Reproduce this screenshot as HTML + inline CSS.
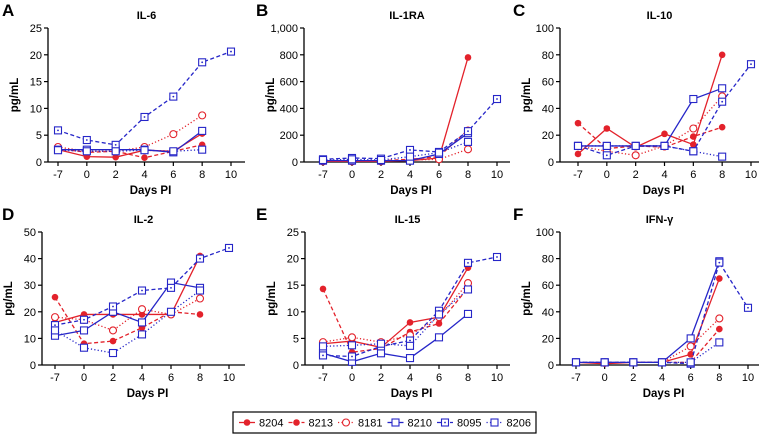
<!DOCTYPE html>
<html><head><meta charset="utf-8"><style>
body{margin:0;background:#fff;}
svg{display:block;font-family:"Liberation Sans",Arial,sans-serif;}
</style></head><body>
<svg id="chart" width="768" height="439" viewBox="0 0 768 439"></svg>
<script>
const days = ["-7","0","2","4","6","8","10"];
const seriesNames = ["8204","8213","8181","8210","8095","8206"];
const il6_8204=[2.3,1.0,0.9,2.2,2.0,5.3], il6_8213=[2.5,1.8,2.0,0.8,2.0,3.2], il6_8181=[2.8,2.0,2.0,2.8,5.2,8.7], il6_8210=[2.3,2.3,2.3,2.3,1.8,5.8], il6_8095=[5.9,4.1,3.2,8.4,12.2,18.6,20.6], il6_8206=[2.2,2.0,2.0,2.2,2.0,2.3];
const ra_8204=[5,5,5,10,30,780], ra_8213=[10,10,10,20,40,240], ra_8181=[5,5,5,15,20,95], ra_8210=[10,10,10,10,60,215], ra_8095=[20,30,25,90,75,230,470], ra_8206=[15,20,15,40,70,150];
const il10_8204=[6,25,11,21,13,80], il10_8213=[29,10,12,11,19,26], il10_8181=[12,8,5,12,25,49], il10_8210=[12,12,12,12,47,55], il10_8095=[12,5,12,12,8,45,73], il10_8206=[12,12,12,12,8,4];
const il2_8204=[16,19,19,19,19,41], il2_8213=[25.5,8,9,14,20,19], il2_8181=[18,17,13,21,19,25], il2_8210=[11,13,20,16,31,29], il2_8095=[15,17,22,28,29,40,44], il2_8206=[13,6.5,4.5,11.5,20,28];
const il15_8204=[4,4.5,3.3,8,9,18.3], il15_8213=[14.3,2.4,3.1,6.2,7.8,14.5], il15_8181=[4.3,5.2,4.3,5.6,9,15.4], il15_8210=[2.2,0.6,2.2,1.3,5.2,9.6], il15_8095=[1.8,1.6,3.5,4.6,10.2,19.2,20.3], il15_8206=[3.5,3.7,4,3.6,9.5,14.2];
const ifn_8204=[2,1,2,2,8,65], ifn_8213=[2,2,2,2,2,27], ifn_8181=[2,2,2,2,14,35], ifn_8210=[2,2,2,2,20,78], ifn_8095=[2,2,2,2,1,77,43], ifn_8206=[2,2,2,2,2,17];
const ticksA=[0,5,10,15,20,25], ticksB=[0,200,400,600,800,1000], ticksC=[0,20,40,60,80,100], ticksD=[0,10,20,30,40,50], ticksE=[0,5,10,15,20,25], ticksF=[0,20,40,60,80,100];
const tickLabelsB=["0","200","400","600","800","1,000"];

const RED="#e3222b", BLUE="#2626c8";
const styles=[
 {c:RED,dash:"",m:"dot"},{c:RED,dash:"4,2.5",m:"dot"},{c:RED,dash:"1.2,2.2",m:"ocircle"},
 {c:BLUE,dash:"",m:"sq"},{c:BLUE,dash:"4,2.5",m:"sqdot"},{c:BLUE,dash:"1.2,2.2",m:"sq"}];
const svg=document.getElementById('chart');
const NS="http://www.w3.org/2000/svg";
function mk(tag,attrs,parent){const e=document.createElementNS(NS,tag);for(const k in attrs)e.setAttribute(k,attrs[k]);(parent||svg).appendChild(e);return e;}

function panel(p){
  const g=mk('g',{});
  
  
  const ymax=p.ticks[p.ticks.length-1];
  const y=v=>p.y0-(v/ymax)*(p.y0-p.ytop);
  const x=i=>p.x0+i*(p.x10-p.x0)/6;
  const letter=mk('text',{x:p.ax-42+ (p.key==='a'||p.key==='d'?0:0),y:p.ytop-12,'font-size':17,'font-weight':'bold'},g);
  letter.setAttribute('x',p.lx);letter.textContent=p.letter;
  
  
  const t=mk('text',{x:(p.ax+p.xend)/2,y:p.ytop-9,'font-size':11,'font-weight':'bold','text-anchor':'middle'},g);
  t.textContent=p.title;
  
  
  const yl=mk('text',{transform:`translate(${p.ax-30},${(p.y0+p.ytop)/2}) rotate(-90)`,'font-size':11.5,'font-weight':'bold','text-anchor':'middle'},g);
  yl.textContent="pg/mL";
  
  
  mk('line',{x1:p.ax,y1:p.ytop,x2:p.ax,y2:p.y0,stroke:'#000','stroke-width':1.3},g);
  mk('line',{x1:p.ax,y1:p.y0,x2:p.xend,y2:p.y0,stroke:'#000','stroke-width':1.3},g);
  p.ticks.forEach((v,i)=>{
    mk('line',{x1:p.ax-4,y1:y(v),x2:p.ax,y2:y(v),stroke:'#000','stroke-width':1.2},g);
    const tl=mk('text',{x:p.ax-6,y:y(v)+4,'font-size':11,'text-anchor':'end'},g);
    tl.textContent=p.labels?p.labels[i]:String(v);
    
    
  });
  days.forEach((d,i)=>{
    mk('line',{x1:x(i),y1:p.y0,x2:x(i),y2:p.y0+4,stroke:'#000','stroke-width':1.2},g);
    const tl=mk('text',{x:x(i),y:p.y0+16,'font-size':11,'text-anchor':'middle'},g);
    tl.textContent=d;
    
    
  });
  const xl=mk('text',{x:(p.ax+p.xend)/2+4,y:p.y0+32,'font-size':11.5,'font-weight':'bold','text-anchor':'middle'},g);
  xl.textContent="Days PI";
  
  
  p.data.forEach((vals,s)=>{
    const st=styles[s];
    const sg=mk('g',{},g);
    
    
    mk('polyline',{points:vals.map((v,i)=>x(i)+','+y(v)).join(' '),fill:'none',stroke:st.c,'stroke-width':1.3,'stroke-dasharray':st.dash},sg);
    vals.forEach((v,i)=>marker(sg,st,x(i),y(v)));
  });
}
function marker(par,st,cx,cy){
  let e;
  if(st.m==='dot') e=mk('circle',{cx,cy,r:3.3,fill:st.c},par);
  else if(st.m==='ocircle') e=mk('circle',{cx,cy,r:3.5,fill:'#fff',stroke:st.c,'stroke-width':1.1},par);
  else { e=mk('rect',{x:cx-3.5,y:cy-3.5,width:7,height:7,fill:'#fff',stroke:st.c,'stroke-width':1.1},par);
    if(st.m==='sqdot') mk('circle',{cx,cy,r:0.9,fill:st.c},par); }
  
  
}
panel({key:'a',letter:'A',lx:2,title:'IL-6',ax:48,xend:245,x0:58,x10:231,y0:162,ytop:28,ticks:ticksA,data:[il6_8204,il6_8213,il6_8181,il6_8210,il6_8095,il6_8206]});
panel({key:'b',letter:'B',lx:256,title:'IL-1RA',ax:304,xend:510,x0:323,x10:497,y0:162,ytop:28,ticks:ticksB,labels:tickLabelsB,data:[ra_8204,ra_8213,ra_8181,ra_8210,ra_8095,ra_8206]});
panel({key:'c',letter:'C',lx:513,title:'IL-10',ax:560,xend:759,x0:578,x10:751,y0:162,ytop:28,ticks:ticksC,data:[il10_8204,il10_8213,il10_8181,il10_8210,il10_8095,il10_8206]});
panel({key:'d',letter:'D',lx:2,title:'IL-2',ax:42,xend:245,x0:55,x10:229,y0:365,ytop:232,ticks:ticksD,data:[il2_8204,il2_8213,il2_8181,il2_8210,il2_8095,il2_8206]});
panel({key:'e',letter:'E',lx:256,title:'IL-15',ax:305,xend:510,x0:323,x10:497,y0:365,ytop:232,ticks:ticksE,data:[il15_8204,il15_8213,il15_8181,il15_8210,il15_8095,il15_8206]});
panel({key:'f',letter:'F',lx:513,title:'IFN-γ',ax:560,xend:759,x0:576,x10:748,y0:365,ytop:232,ticks:ticksF,data:[ifn_8204,ifn_8213,ifn_8181,ifn_8210,ifn_8095,ifn_8206]});

const lg=mk('g',{});


mk('rect',{x:233,y:412,width:303,height:21,fill:'#fff',stroke:'#000','stroke-width':1.2},lg);
seriesNames.forEach((n,s)=>{
  const st=styles[s];
  const ex=247+s*49.5, ey=422.5;
  const eg=mk('g',{},lg);
  
  
  mk('line',{x1:ex-8,y1:ey,x2:ex+8,y2:ey,stroke:st.c,'stroke-width':1.3,'stroke-dasharray':st.dash},eg);
  marker(eg,st,ex,ey);
  const t=mk('text',{x:ex+12,y:ey+4,'font-size':11},eg);
  t.textContent=n;
});
</script>
</body></html>
